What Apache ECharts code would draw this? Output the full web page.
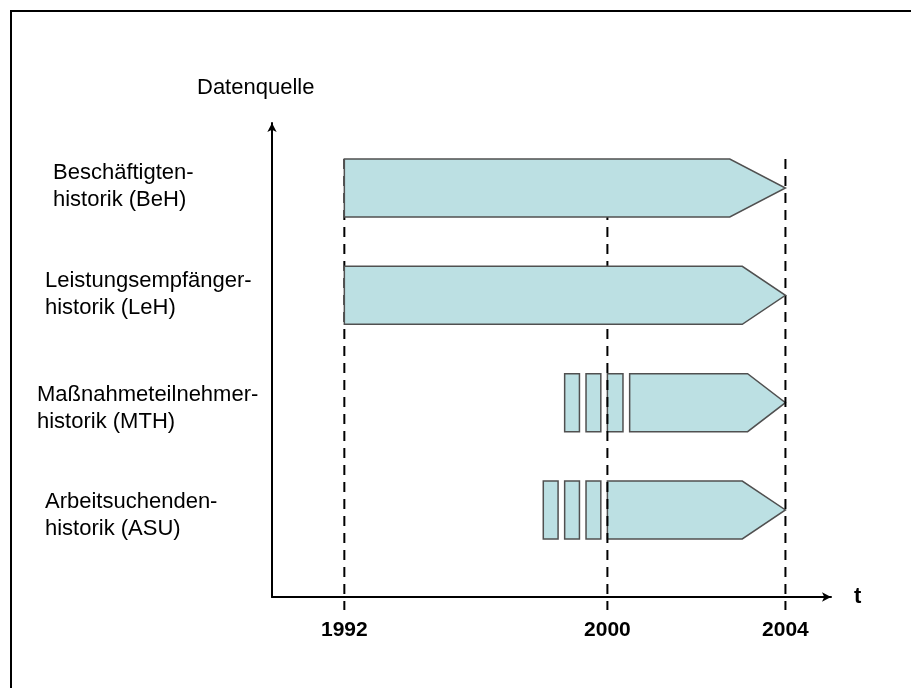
<!DOCTYPE html>
<html>
<head>
<meta charset="utf-8">
<script src="https://cdn.jsdelivr.net/npm/echarts@6/dist/echarts.min.js"></script>
<style>
  html, body { margin: 0; padding: 0; background: #fff; }
  #chart { width: 911px; height: 688px; }
</style>
</head>
<body>
<div id="chart"></div>
<script>
// Datenquellen und ihre Zeiträume
var rows = [
  'Beschäftigten-\nhistorik (BeH)',
  'Leistungsempfänger-\nhistorik (LeH)',
  'Maßnahmeteilnehmer-\nhistorik (MTH)',
  'Arbeitsuchenden-\nhistorik (ASU)'
];
var spanStart = [1992, 1992, 2000.5, 2000];
var arrowFrom = [2002.75, 2003.03, 2003.15, 2003.03];
var spanEnd = [2004, 2004, 2004, 2004];
// kleine Blöcke vor dem Hauptbalken (Vorläuferdaten)
var earlyBlocks = [
  [],
  [],
  [[1998.7, 1999.15], [1999.35, 1999.8], [2000, 2000.35]],
  [[1998.05, 1998.5], [1998.7, 1999.15], [1999.35, 1999.8]]
];
var tickYears = [1992, 2000, 2004];

// die Vorlage ist nicht maßstäblich: 2000-2004 ist breiter gezeichnet
function axisYear(y) {
  return y <= 2000 ? y : 2000 + (y - 2000) * 1.3536;
}

// Lage der Beschriftungen links
var labelLeft = [53, 45, 37, 45];
var labelDy = [-2, -1, 6, 5];
var font = '"Liberation Sans", Arial, sans-serif';
var fillColor = '#bce0e3';
var strokeColor = '#505050';
var barHalf = 0.27;

function rowValue(i) { return rows.length - 1 - i; }

var chart = echarts.init(document.getElementById('chart'));

var option = {
  animation: false,
  grid: { left: 272, right: 80, top: 123, bottom: 91 },
  xAxis: {
    type: 'value',
    min: 1989.8,
    max: 2006.8,
    name: 't',
    nameLocation: 'end',
    nameGap: 23,
    nameTextStyle: { fontFamily: font, fontSize: 22, fontWeight: 'bold', color: '#000', verticalAlign: 'middle', padding: [0, 0, 4, 0] },
    axisLine: { onZero: false, lineStyle: { color: '#000', width: 2 }, symbol: ['none', 'arrow'], symbolSize: [7, 9] },
    axisTick: { show: false },
    axisLabel: { show: false },
    splitLine: { show: false }
  },
  yAxis: {
    type: 'value',
    min: -0.8106,
    max: 3.6056,
    axisLine: { show: true, onZero: false, lineStyle: { color: '#000', width: 2 }, symbol: ['none', 'arrow'], symbolSize: [7, 9] },
    axisTick: { show: false },
    axisLabel: { show: false },
    splitLine: { show: false }
  },
  graphic: [
    { type: 'rect', shape: { x: 11, y: 11, width: 1000, height: 1000 }, style: { fill: 'none', stroke: '#000', lineWidth: 2 }, silent: true },
    { type: 'text', x: 197, y: 88, style: { text: 'Datenquelle', font: '22px ' + font, fill: '#000', textVerticalAlign: 'middle' } }
  ],
  series: [
    {
      // Balken je Datenquelle
      type: 'custom',
      clip: false,
      data: rows.map(function (r, i) { return i; }),
      renderItem: function (params, api) {
        var i = api.value(0);
        var yv = rowValue(i);
        var top = api.coord([axisYear(spanStart[i]), yv + barHalf])[1];
        var bot = api.coord([axisYear(spanStart[i]), yv - barHalf])[1];
        var mid = api.coord([0, yv])[1];
        var x0 = api.coord([axisYear(spanStart[i]), yv])[0];
        var xa = api.coord([axisYear(arrowFrom[i]), yv])[0];
        var x1 = api.coord([axisYear(spanEnd[i]), yv])[0];
        var z2 = i < 2 ? 30 : 10;
        var children = [{
          type: 'polygon',
          z2: z2,
          shape: { points: [[x0, top], [xa, top], [x1, mid], [xa, bot], [x0, bot]] },
          style: { fill: fillColor, stroke: strokeColor, lineWidth: 1.5 }
        }];
        earlyBlocks[i].forEach(function (b) {
          var bx0 = api.coord([axisYear(b[0]), yv])[0];
          var bx1 = api.coord([axisYear(b[1]), yv])[0];
          children.push({
            type: 'rect',
            z2: z2,
            shape: { x: bx0, y: top, width: bx1 - bx0, height: bot - top },
            style: { fill: fillColor, stroke: strokeColor, lineWidth: 1.5 }
          });
        });
        children.push({
          type: 'text',
          z2: 40,
          style: {
            text: rows[i], x: labelLeft[i], y: mid + labelDy[i],
            font: '22px ' + font, fill: '#000',
            textVerticalAlign: 'middle', lineHeight: 27
          }
        });
        return { type: 'group', children: children };
      }
    },
    {
      // gestrichelte Jahreslinien und Jahreszahlen
      type: 'custom',
      clip: false,
      data: tickYears.map(function (y) { return [y]; }),
      renderItem: function (params, api) {
        var yr = api.value(0);
        var x = api.coord([axisYear(yr), 0])[0];
        var top = api.coord([0, rowValue(0) + barHalf])[1];
        var axisY = api.coord([0, -0.8106])[1];
        return {
          type: 'group',
          children: [
            {
              type: 'line',
              z2: 20,
              shape: { x1: x, y1: top, x2: x, y2: axisY + 13 },
              style: { stroke: '#000', lineWidth: 2, lineDash: [10, 7] }
            },
            {
              type: 'text',
              z2: 40,
              style: {
                text: String(yr), x: x, y: axisY + 33,
                font: 'bold 21px ' + font, fill: '#000',
                textAlign: 'center', textVerticalAlign: 'middle'
              }
            }
          ]
        };
      }
    }
  ]
};

chart.setOption(option);
</script>
</body>
</html>
